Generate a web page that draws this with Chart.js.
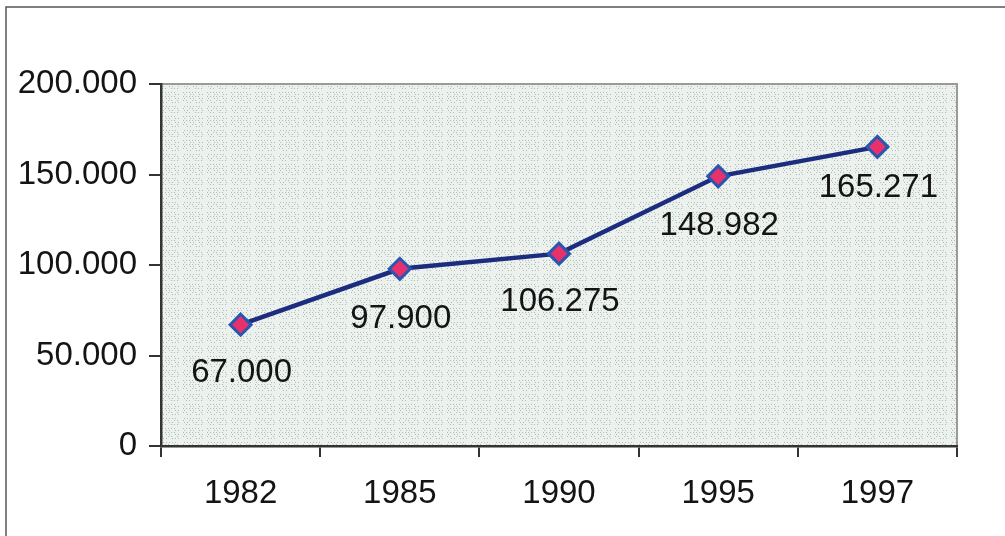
<!DOCTYPE html>
<html>
<head>
<meta charset="utf-8">
<script src="https://cdn.jsdelivr.net/npm/chart.js@4/dist/chart.umd.min.js"></script>
<style>
  html, body { margin: 0; padding: 0; background: #fff; }
  #wrap { width: 1005px; height: 536px; }
</style>
</head>
<body>
<div id="wrap"><canvas id="popChart" width="1005" height="536"></canvas></div>
<script>
const years = ['1982', '1985', '1990', '1995', '1997'];
const values = [67000, 97900, 106275, 148982, 165271];
const valueLabels = ['67.000', '97.900', '106.275', '148.982', '165.271'];
const yTicks = [0, 50000, 100000, 150000, 200000];

const FONT = '"Liberation Sans", Arial, sans-serif';

// dotted fill for the plot area
function makeStipple() {
  const c = document.createElement('canvas');
  c.width = 24; c.height = 24;
  const g = c.getContext('2d');
  g.fillStyle = '#ecf1ee';
  g.fillRect(0, 0, 24, 24);
  g.fillStyle = 'rgba(120,150,138,0.55)';
  for (let y = 0; y < 24; y += 2) {
    for (let x = 0; x < 24; x += 3) {
      const h = (x * 7 + y * 13 + x * y) % 5;
      if (h < 3) g.fillRect(x + (y % 4 === 0 ? 0 : 1), y, 1, 1);
    }
  }
  return g.createPattern(c, 'repeat');
}

const fmt = v => v === 0 ? '0' : (v / 1000).toFixed(3);

const framePlugin = {
  id: 'frame',
  beforeDraw(chart) {
    const { ctx, chartArea: a } = chart;
    ctx.save();
    ctx.fillStyle = makeStipple();
    ctx.fillRect(a.left, a.top, a.right - a.left, a.bottom - a.top);
    ctx.strokeStyle = '#9a9a9a';
    ctx.lineWidth = 2;
    ctx.beginPath();
    ctx.moveTo(a.left, a.top);
    ctx.lineTo(a.right, a.top);
    ctx.lineTo(a.right, a.bottom);
    ctx.stroke();
    // outer frame, top and left
    ctx.strokeStyle = '#555';
    ctx.lineWidth = 1.5;
    ctx.beginPath();
    ctx.moveTo(6, 536);
    ctx.lineTo(6, 7);
    ctx.lineTo(1005, 7);
    ctx.stroke();
    ctx.restore();
  },
  afterDatasetsDraw(chart) {
    const { ctx } = chart;
    const meta = chart.getDatasetMeta(0);
    const offsets = [48, 50, 48, 50, 41];
    ctx.save();
    ctx.font = '33px ' + FONT;
    ctx.fillStyle = '#141414';
    ctx.textAlign = 'center';
    ctx.textBaseline = 'middle';
    meta.data.forEach((pt, i) => {
      ctx.fillText(valueLabels[i], pt.x + 1, pt.y + offsets[i]);
    });
    ctx.restore();
  }
};

new Chart(document.getElementById('popChart'), {
  type: 'line',
  data: {
    labels: years,
    datasets: [{
      data: values,
      borderColor: '#1c2d80',
      borderWidth: 4.5,
      pointStyle: 'rectRot',
      pointRadius: 10.5,
      pointBackgroundColor: '#e8306a',
      pointBorderColor: '#2a56b0',
      pointBorderWidth: 3,
      tension: 0,
      fill: false
    }]
  },
  options: {
    responsive: false,
    animation: false,
    layout: { padding: { left: 0, right: 48, top: 84, bottom: 0 } },
    plugins: { legend: { display: false }, tooltip: { enabled: false } },
    scales: {
      x: {
        offset: true,
        grid: { offset: true, drawOnChartArea: false, drawTicks: true, tickLength: 11, color: '#333', lineWidth: 2 },
        border: { color: '#333', width: 2.5 },
        ticks: { color: '#141414', font: { size: 33, family: FONT }, padding: 17 },
        afterFit(s) { s.height = 90; }
      },
      y: {
        min: 0,
        max: 200000,
        afterBuildTicks(s) { s.ticks = yTicks.map(v => ({ value: v })); },
        grid: { drawOnChartArea: false, drawTicks: true, tickLength: 12, color: '#333', lineWidth: 2 },
        border: { color: '#333', width: 2.5 },
        ticks: {
          color: '#141414',
          font: { size: 33, family: FONT },
          padding: 12,
          callback: v => fmt(v)
        },
        afterFit(s) { s.width = 161; }
      }
    }
  },
  plugins: [framePlugin]
});
</script>
</body>
</html>
